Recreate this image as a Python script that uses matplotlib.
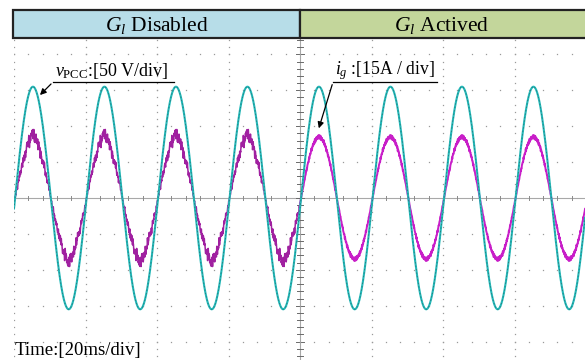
import numpy as np
import matplotlib
matplotlib.use('Agg')
from matplotlib import pyplot as plt
from matplotlib.patches import Rectangle

plt.rcParams['font.family'] = ['Liberation Serif', 'DejaVu Serif']
plt.rcParams['mathtext.fontset'] = 'custom'
plt.rcParams['mathtext.rm'] = 'Liberation Serif'
plt.rcParams['mathtext.it'] = 'Liberation Serif:italic'

# scope settings
ms_per_div = 20.0
v_per_div = 50.0
a_per_div = 15.0
f_grid = 50.0
switch_ms = 80.0

# measured waveforms (fundamental + harmonic content)
v_peak = 155.0
v_delay_ms = 0.3
i_peak_off = 25.0
i_peak_on = 25.5
i_low_orders = [3, 5]
i_low_amps_off = [-0.9, 0.5]
ripple_orders = [13, 17, 29, 41, 59, 73, 97, 127]
ripple_amps_off = [0.5, 0.6, 0.7, 0.8, 0.8, 0.7, 0.6, 0.6]
ripple_phases = [0.3, 1.9, 4.1, 2.6, 5.3, 0.9, 3.4, 1.2]
ripple_amps_on = [0.0, 0.0, 0.1, 0.2, 0.25, 0.25, 0.3, 0.3]

t = np.linspace(0, 160, 16000)
w = 2 * np.pi * f_grid / 1000.0
th = w * (t - v_delay_ms)

v = v_peak * np.sin(th)

def current(peak, low_amps, rip_amps):
    i = peak * np.sin(th)
    for n, a in zip(i_low_orders, low_amps):
        i += a * np.sin(n * th)
    rip = np.zeros_like(t)
    for n, a, p in zip(ripple_orders, rip_amps, ripple_phases):
        rip += a * np.sin(n * th + p)
    return i + rip * (0.3 + 0.7 * np.abs(np.sin(th)))

i_off = current(i_peak_off, i_low_amps_off, ripple_amps_off)
i_on = current(i_peak_on, [0.0, 0.0], ripple_amps_on)
before = t <= switch_ms
after = t >= switch_ms

W, H = 585, 360
fig = plt.figure(figsize=(W / 100, H / 100), dpi=100, facecolor='white')

# pixel layout of the scope screen
x0, px_div = 14, 71.5
yc, py_div = 198, 35.9
ytop = 38
ax = fig.add_axes([x0 / W, 0, 1 - x0 / W, (H - ytop) / H])
ax.set_xlim(0, (W - x0) / px_div * ms_per_div)
ax.set_ylim(-(H - yc) / py_div, (yc - ytop) / py_div)
ax.axis('off')

# graticule dots
dot = dict(ls='none', marker='s', ms=0.9, color='#9a9a9a', mew=0)
xs = np.arange(0, 160.1, ms_per_div / 5)
for r in [-4, -3, -2, -1, 1, 2, 3, 4]:
    ax.plot(xs, np.full_like(xs, r), **dot)
ys = np.arange(-5, 5.01, 0.2)
for c in np.arange(0, 161, ms_per_div):
    if c != switch_ms:
        ax.plot(np.full_like(ys, c), ys, **dot)

# centre cross with ticks
ax.axhline(0, color='#a8a8a8', lw=0.8, zorder=1)
ax.axvline(switch_ms, color='#a8a8a8', lw=0.8, zorder=1)
for xt in xs:
    ax.plot([xt, xt], [-0.06, 0.06], color='#8a8a8a', lw=0.7, zorder=1)
for yt in ys:
    hl = 1.0 if abs(yt - round(yt)) < 1e-6 else 0.7
    ax.plot([switch_ms - hl, switch_ms + hl], [yt, yt], color='#6a6a6a', lw=0.7, zorder=1)

# traces
ax.plot(t[before], i_off[before] / a_per_div, color='#a020a0', lw=1.1, zorder=3)
ax.plot(t[after], i_on[after] / a_per_div, color='#c81ec8', lw=1.4, zorder=3)
ax.plot(t, v / v_per_div, color='#22b8b8', lw=1.5, zorder=4)
ax.plot(t, v / v_per_div, color='#2a6f72', lw=0.5, ls=(0, (2, 3)), zorder=5)

# overlay in pixel coordinates for header and labels
ov = fig.add_axes([0, 0, 1, 1], facecolor='none')
ov.set_xlim(0, W)
ov.set_ylim(H, 0)
ov.axis('off')

ov.add_patch(Rectangle((13, 10), 287, 28, facecolor='#b7dde8', edgecolor='#222222', lw=1.6))
ov.add_patch(Rectangle((300, 10), 300, 28, facecolor='#c3d69b', edgecolor='#222222', lw=1.6))
ov.text(156.5, 25, r'$G_l$ Disabled', ha='center', va='center', fontsize=15.5)
ov.text(442, 25, r'$G_l$ Actived', ha='center', va='center', fontsize=15.5)

ov.text(55, 76, r'$v_{\mathrm{PCC}}$:[50 V/div]', fontsize=13, va='baseline')
ov.plot([53, 174], [82, 82], color='black', lw=0.9)
ov.annotate('', xy=(38, 97), xytext=(53, 82),
            arrowprops=dict(arrowstyle='-|>', color='black', lw=0.9, mutation_scale=9))

ov.text(335, 74, r'$i_g$ :[15A / div]', fontsize=12.7, va='baseline')
ov.plot([333, 437], [82, 82], color='black', lw=0.9)
ov.annotate('', xy=(318, 131), xytext=(333, 82),
            arrowprops=dict(arrowstyle='-|>', color='black', lw=0.9, mutation_scale=9))

ov.text(15, 355, 'Time:[20ms/div]', fontsize=13.5, va='baseline')

fig.savefig('out.png', dpi=100, facecolor='white')
